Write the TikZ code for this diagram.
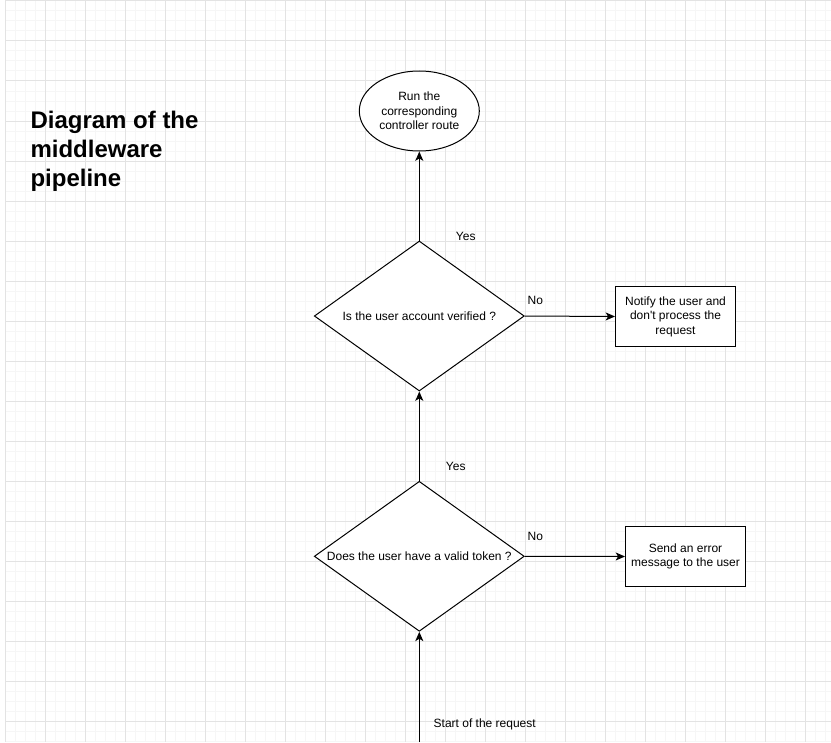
\documentclass[tikz,border=0pt]{standalone}
\usepackage{fontspec}
\setmainfont{Liberation Sans}[Ligatures=TeXOff]
\usetikzlibrary{shapes.geometric,arrows.meta}

\begin{document}
\begin{tikzpicture}[x=0.75pt,y=-0.75pt,line width=0.75pt,
    minorgrid/.style={draw=black!3.5},
    majorgrid/.style={draw=black!11},
    small/.style={font=\fontsize{9}{10.8}\selectfont},
    decision/.style={small,diamond,draw,fill=white,aspect=1.4,
        minimum width=157.5pt,minimum height=112.5pt,inner sep=0pt},
    process/.style={small,rectangle,draw,fill=white,align=center,
        minimum width=90pt,minimum height=45pt,inner sep=0pt},
    terminal/.style={small,ellipse,draw,fill=white,align=center,
        minimum width=90pt,minimum height=60pt,inner sep=0pt},
    lbl/.style={small,inner sep=0pt},
    flowarrow/.style={-{Stealth[length=7pt,width=6pt,inset=1.8pt]}}]
    \useasboundingbox (0,0) rectangle (831,742);

    % grid
    \foreach \gx in {5,15,...,825} \draw[minorgrid] (\gx,1) -- (\gx,742);
    \foreach \gy in {1,11,...,741} \draw[minorgrid] (5,\gy) -- (831,\gy);
    \foreach \gx in {5,45,...,805} \draw[majorgrid] (\gx,1) -- (\gx,742);
    \foreach \gy in {1,41,...,721} \draw[majorgrid] (5,\gy) -- (831,\gy);

    % title
    \node[font=\fontsize{18}{21.4}\selectfont\bfseries,align=left,inner sep=0pt,
        anchor=base west] (heading) at (30,186) {Diagram of the\\middleware\\pipeline};

    % shapes
    \node[terminal] (runroute) at (419.3,111) {Run the\\corresponding\\controller route};
    \node[decision] (verifycheck) at (419.3,316) {Is the user account verified ?};
    \node[process] (notifyuser) at (675.5,316.5) {Notify the user and\\don't process the\\request};
    \node[decision] (tokencheck) at (419.3,556.3) {Does the user have a valid token ?};
    \node[process] (senderror) at (685.5,556.5) {Send an error\\message to the user};
    \coordinate (start) at (419.3,742);

    % connectors
    \draw[flowarrow] (start) -- (tokencheck.south);
    \draw[flowarrow] (tokencheck.north) -- (verifycheck.south);
    \draw[flowarrow] (verifycheck.north) -- (runroute.south);
    \draw[flowarrow] (verifycheck.east) -- (notifyuser.west);
    \draw[flowarrow] (tokencheck.east) -- (senderror.west);

    % labels
    \node[lbl] (yesverify) at (465.7,236) {Yes};
    \node[lbl] (noverify) at (535.3,300.7) {No};
    \node[lbl] (yestoken) at (455.7,466) {Yes};
    \node[lbl] (notoken) at (535.3,536) {No};
    \node[lbl] (startlbl) at (484.7,724) {Start of the request};
\end{tikzpicture}
\end{document}
